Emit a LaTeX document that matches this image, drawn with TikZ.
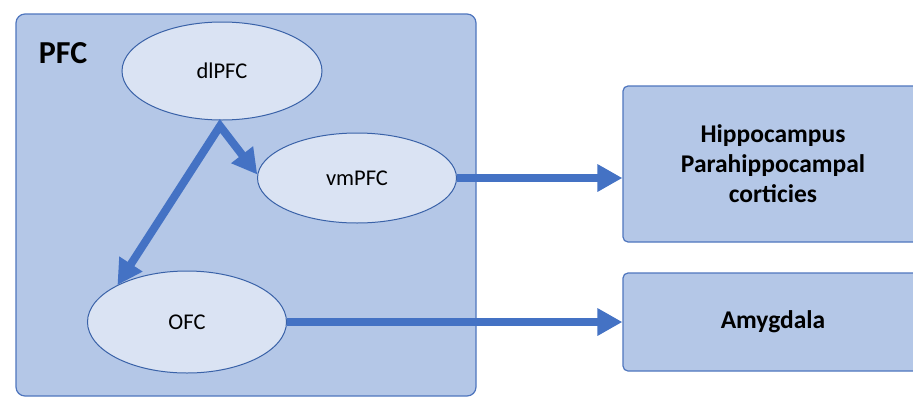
\documentclass[tikz,border=0pt]{standalone}
\usepackage{fontspec}
\setmainfont{Carlito}
\usetikzlibrary{arrows.meta,shapes.geometric}
\definecolor{boxfill}{HTML}{B4C7E7}
\definecolor{boxline}{HTML}{4F76BE}
\definecolor{ellfill}{HTML}{DAE3F3}
\definecolor{ellline}{HTML}{3A62A8}
\definecolor{arrowblue}{HTML}{4472C4}
\tikzset{
  region/.style={draw=boxline, fill=boxfill, line width=1.2pt, rounded corners=9pt},
  area/.style={ellipse, draw=ellline, fill=ellfill, line width=1pt, inner sep=0pt,
    font=\fontsize{22.5}{27}\selectfont},
  target/.style={draw=boxline, fill=boxfill, line width=1.2pt, rounded corners=5pt,
    align=center, inner sep=0pt, font=\fontsize{25.5}{30}\selectfont\bfseries},
  link/.style={draw=arrowblue, line width=8pt, -{Triangle[length=25pt,width=26pt]}},
  fork/.style={draw=arrowblue, line width=8pt, line join=miter,
    {Triangle[length=25pt,width=26pt]}-{Triangle[length=25pt,width=26pt]}},
}
\begin{document}
\begin{tikzpicture}[x=1pt,y=-1pt]
\useasboundingbox (0,0) rectangle (913,397);
\fill[white] (0,0) rectangle (913,397);
\draw[region] (16,14) rectangle (476,396);
\node[font=\fontsize{32}{36}\selectfont\bfseries] (pfc) at (63,53) {PFC};
\node[area, minimum width=200pt, minimum height=98pt] (dl) at (222,71) {dlPFC};
\node[area, minimum width=199pt, minimum height=90pt] (vm) at (357,178) {vmPFC};
\node[area, minimum width=199pt, minimum height=102pt] (ofc) at (187,322) {OFC};
\node[target, minimum width=300pt, minimum height=156pt] (hip) at (773,164) {Hippocampus\\Parahippocampal\\corticies};
\node[target, minimum width=300pt, minimum height=98pt] (amy) at (773,322) {Amygdala};
\coordinate (apex) at (220,126);
\draw[fork] (vm.178) -- (apex) -- (ofc.152);
\draw[link] (vm.east) -- (vm.east -| hip.west);
\draw[link] (ofc.east) -- (ofc.east -| amy.west);
\end{tikzpicture}
\end{document}
